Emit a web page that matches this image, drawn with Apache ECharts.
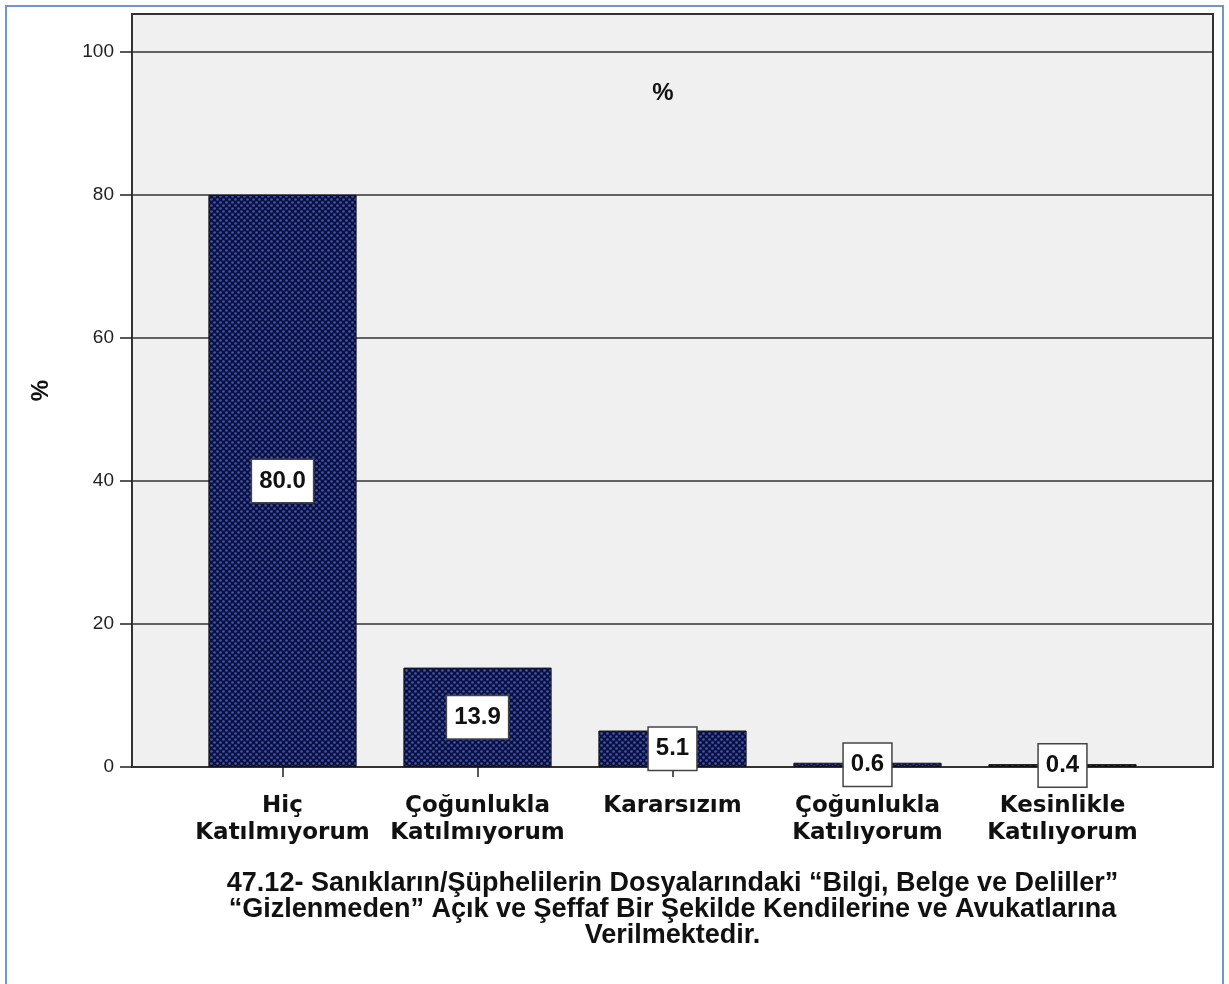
<!DOCTYPE html>
<html>
<head>
<meta charset="utf-8">
<script src="https://cdn.jsdelivr.net/npm/echarts@6/dist/echarts.min.js"></script>
<style>
	html, body {margin: 0; padding: 0; background: #fff;}
	#frame {position: absolute; left: 5px; top: 5px; width: 1219px; height: 1000px; border: 2px solid #6f96d1; box-sizing: border-box;}
	#chart {position: absolute; left: 0; top: 0; width: 1229px; height: 984px;}
</style>
</head>
<body>
<div id="frame"></div>
<div id="chart"></div>
<script>
const categories = ['Hiç\nKatılmıyorum', 'Çoğunlukla\nKatılmıyorum', 'Kararsızım', 'Çoğunlukla\nKatılıyorum', 'Kesinlikle\nKatılıyorum'];
const percents = [80.0, 13.9, 5.1, 0.6, 0.4];
const axisTitle = '47.12- Sanıkların/Şüphelilerin Dosyalarındaki “Bilgi, Belge ve Deliller”\n“Gizlenmeden” Açık ve Şeffaf Bir Şekilde Kendilerine ve Avukatlarına\nVerilmektedir.';

const yMax = 105.3;
const arial = '"Liberation Sans", Arial, sans-serif';

// dotted fill like the SPSS bar pattern
function pattern()
{
	let c = document.createElement('canvas');
	c.width = 6;
	c.height = 6;
	let g = c.getContext('2d');
	g.fillStyle = '#0b103c';
	g.fillRect(0, 0, 6, 6);
	g.fillStyle = '#4257bd';
	[[1.5, 1.5], [4.5, 4.5]].forEach(([x, y]) =>
	{
		g.beginPath();
		g.arc(x, y, 1.3, 0, Math.PI * 2);
		g.fill();
	});
	return c;
}

const chart = echarts.init(document.getElementById('chart'));
chart.setOption({
	animation: false,
	title: {text: '%', left: 658, top: 76, textAlign: 'center',
		textStyle: {fontFamily: arial, fontWeight: 'bold', fontSize: 24, color: '#111'}},
	grid: [
		{left: 132, right: 16, top: 14, bottom: 217, show: true,
			backgroundColor: '#f0f0f0', borderColor: '#333', borderWidth: 2},
		{left: 185, right: 69, top: 14, bottom: 217}
	],
	xAxis: [
		{gridIndex: 0, type: 'category', data: [''], show: false},
		{gridIndex: 1, type: 'category', data: categories,
			axisLine: {show: false},
			axisTick: {show: true, alignWithLabel: true, length: 10, lineStyle: {color: '#222', width: 1.5}},
			axisLabel: {margin: 26, interval: 0, fontFamily: '"DejaVu Sans", sans-serif', fontWeight: 'bold',
				fontSize: 23, lineHeight: 27, color: '#111'},
			name: axisTitle, nameLocation: 'middle', nameGap: 104,
			nameTextStyle: {fontFamily: arial, fontWeight: 'bold', fontSize: 27, lineHeight: 26, color: '#111'}}
	],
	yAxis: [
		{gridIndex: 0, type: 'value', min: 0, max: yMax, interval: 20,
			name: '%', nameLocation: 'middle', nameGap: 79, nameRotate: 90,
			nameTextStyle: {fontFamily: arial, fontWeight: 'bold', fontSize: 24, color: '#111'},
			axisLine: {show: false},
			axisTick: {show: true, length: 12, lineStyle: {color: '#222', width: 1.5}},
			axisLabel: {showMaxLabel: false, margin: 18, fontFamily: arial, fontSize: 19, color: '#222',
				formatter: v => v % 20 === 0 ? String(v) : ''},
			splitLine: {show: true, lineStyle: {color: '#333', width: 1.5}}},
		{gridIndex: 1, type: 'value', min: 0, max: yMax, show: false}
	],
	series: [{
		type: 'bar',
		xAxisIndex: 1,
		yAxisIndex: 1,
		data: percents,
		barWidth: '76%',
		itemStyle: {color: {image: pattern(), repetition: 'repeat'}, borderColor: '#111', borderWidth: 1},
		label: {show: true, position: 'inside', formatter: p => p.value.toFixed(1),
			fontFamily: arial, fontWeight: 'bold', fontSize: 24, color: '#111',
			backgroundColor: '#fff', borderColor: '#444', borderWidth: 1.5, padding: [10, 7, 8, 7]}
	}]
});
</script>
</body>
</html>
